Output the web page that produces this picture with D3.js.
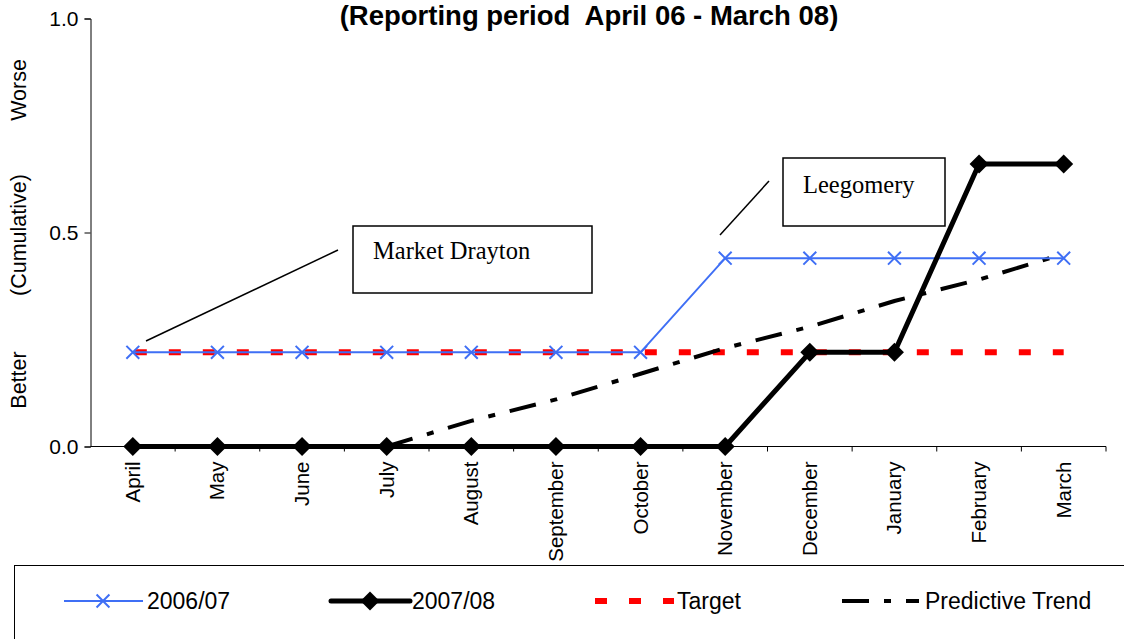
<!DOCTYPE html>
<html>
<head>
<meta charset="utf-8">
<script src="https://cdn.jsdelivr.net/npm/d3@7"></script>
<style>
  body { margin: 0; background: #fff; }
  svg { display: block; font-family: Arial, "Liberation Sans", sans-serif; }
</style>
</head>
<body>
<svg id="chart" width="1124" height="639"></svg>
<script>
let months = ['April', 'May', 'June', 'July', 'August', 'September', 'October', 'November', 'December', 'January', 'February', 'March']
let yr0607 = [0.22, 0.22, 0.22, 0.22, 0.22, 0.22, 0.22, 0.44, 0.44, 0.44, 0.44, 0.44]
let yr0708 = [0, 0, 0, 0, 0, 0, 0, 0, 0.22, 0.22, 0.66, 0.66]
let target = [0.22, 0.22, 0.22, 0.22, 0.22, 0.22, 0.22, 0.22, 0.22, 0.22, 0.22, 0.22]
let trend = [null, null, null, 0, 0.06, 0.11, 0.17, 0.23, 0.28, 0.34, 0.39, 0.45]
let yTicks = [0, 0.5, 1.0]

let m = {t: 18.5, r: 18, b: 192.5, l: 90.5}
let w = 1124, h = 639

let svg = d3.select('#chart')

let x = d3.scaleBand().domain(months).range([m.l, w - m.r])
let y = d3.scaleLinear().domain([0, 1]).range([h - m.b, m.t])
let cx = d => x(d) + x.bandwidth() / 2

// title
svg.append('text')
    .attr('x', 589).attr('y', 25)
    .attr('text-anchor', 'middle')
    .attr('font-size', 27.5).attr('font-weight', 'bold')
    .style('white-space', 'pre')
    .text('(Reporting period  April 06 - March 08)')

// y axis
let yAxis = svg.append('g')
    .attr('transform', `translate(${m.l}, 0)`)
    .call(d3.axisLeft(y).tickValues(yTicks).tickFormat(d3.format('.1f')).tickSize(6).tickPadding(6))
yAxis.select('.domain').attr('stroke', '#000')
yAxis.selectAll('text').attr('font-size', 21).attr('font-family', 'Arial, Liberation Sans, sans-serif')

// x axis with ticks at category boundaries
let xAxisG = svg.append('g').attr('transform', `translate(0, ${y(0)})`)
xAxisG.append('line')
    .attr('x1', m.l).attr('x2', w - m.r)
    .attr('stroke', '#000')
xAxisG.selectAll('.bnd')
    .data(months)
    .join('line')
    .attr('x1', d => x(d) + x.bandwidth()).attr('x2', d => x(d) + x.bandwidth())
    .attr('y1', 0).attr('y2', 5)
    .attr('stroke', '#000')
xAxisG.selectAll('.lbl')
    .data(months)
    .join('text')
    .attr('transform', d => `translate(${cx(d) + 7}, 15) rotate(-90)`)
    .attr('text-anchor', 'end')
    .attr('font-size', 20.5)
    .text(d => d)

// y axis titles
let yTitles = [['Worse', 90], ['(Cumulative)', 235], ['Better', 380]]
svg.selectAll('.ytitle')
    .data(yTitles)
    .join('text')
    .attr('transform', d => `translate(25.5, ${d[1]}) rotate(-90)`)
    .attr('text-anchor', 'middle')
    .attr('font-size', 21.5)
    .text(d => d[0])

let line = d3.line()
    .defined(d => d[1] != null)
    .x(d => cx(d[0]))
    .y(d => y(d[1]))
let pairs = arr => months.map((mo, i) => [mo, arr[i]])

// target
svg.append('path')
    .attr('d', line(pairs(target)))
    .attr('fill', 'none').attr('stroke', '#ff0000')
    .attr('stroke-width', 6).attr('stroke-dasharray', '12,22')
    .attr('stroke-dashoffset', -2)

// predictive trend
svg.append('path')
    .attr('d', line(pairs(trend)))
    .attr('fill', 'none').attr('stroke', '#000')
    .attr('stroke-width', 4).attr('stroke-dasharray', '27,15,7,15')

// 2006/07
let blue = '#3f6ff5'
svg.append('path')
    .attr('d', line(pairs(yr0607)))
    .attr('fill', 'none').attr('stroke', blue).attr('stroke-width', 2)
let cross = d3.symbol().type(d3.symbolX).size(110)
svg.selectAll('.xmark')
    .data(pairs(yr0607))
    .join('path')
    .attr('d', cross)
    .attr('transform', d => `translate(${cx(d[0])}, ${y(d[1])})`)
    .attr('fill', 'none').attr('stroke', blue).attr('stroke-width', 2)

// 2007/08
svg.append('path')
    .attr('d', line(pairs(yr0708)))
    .attr('fill', 'none').attr('stroke', '#000').attr('stroke-width', 5)
    .attr('stroke-linejoin', 'round')
let diamond = d3.symbol().type(d3.symbolDiamond2).size(230)
svg.selectAll('.dmark')
    .data(pairs(yr0708))
    .join('path')
    .attr('d', diamond)
    .attr('transform', d => `translate(${cx(d[0])}, ${y(d[1])})`)
    .attr('fill', '#000')

// annotations
let notes = [
    {text: 'Market Drayton', box: [353, 226, 239, 67], tx: 373, ty: 259, lead: [146, 341, 338, 250]},
    {text: 'Leegomery', box: [783, 158, 162, 68], tx: 803, ty: 193, lead: [720, 235, 769, 181]}
]
notes.forEach(n => {
    svg.append('line')
        .attr('x1', n.lead[0]).attr('y1', n.lead[1]).attr('x2', n.lead[2]).attr('y2', n.lead[3])
        .attr('stroke', '#000').attr('stroke-width', 1.5)
    svg.append('rect')
        .attr('x', n.box[0]).attr('y', n.box[1]).attr('width', n.box[2]).attr('height', n.box[3])
        .attr('fill', '#fff').attr('stroke', '#000').attr('stroke-width', 1.5)
    svg.append('text')
        .attr('x', n.tx).attr('y', n.ty)
        .attr('font-family', '"Liberation Serif", "Times New Roman", serif')
        .attr('font-size', 24.5)
        .text(n.text)
})

// legend
svg.append('rect')
    .attr('x', 14.5).attr('y', 565.5).attr('width', 1120).attr('height', 80)
    .attr('fill', 'none').attr('stroke', '#000').attr('stroke-width', 1)
let ly = 601
let lg = svg.append('g').attr('font-size', 23)
lg.append('line').attr('x1', 64).attr('x2', 143).attr('y1', ly).attr('y2', ly)
    .attr('stroke', blue).attr('stroke-width', 2)
lg.append('path').attr('d', cross).attr('transform', `translate(103, ${ly})`)
    .attr('fill', 'none').attr('stroke', blue).attr('stroke-width', 2)
lg.append('text').attr('x', 147).attr('y', ly + 8).text('2006/07')

lg.append('line').attr('x1', 331).attr('x2', 410).attr('y1', ly).attr('y2', ly)
    .attr('stroke', '#000').attr('stroke-width', 5).attr('stroke-linecap', 'round')
lg.append('path').attr('d', diamond).attr('transform', `translate(370, ${ly})`).attr('fill', '#000')
lg.append('text').attr('x', 412).attr('y', ly + 8).text('2007/08')

lg.append('line').attr('x1', 595).attr('x2', 674).attr('y1', ly).attr('y2', ly)
    .attr('stroke', '#ff0000').attr('stroke-width', 6).attr('stroke-dasharray', '12,22')
lg.append('text').attr('x', 677).attr('y', ly + 8).text('Target')

lg.append('line').attr('x1', 842).attr('x2', 919).attr('y1', ly).attr('y2', ly)
    .attr('stroke', '#000').attr('stroke-width', 4).attr('stroke-dasharray', '27,15,7,15')
lg.append('text').attr('x', 925).attr('y', ly + 8).text('Predictive Trend')
</script>
</body>
</html>
